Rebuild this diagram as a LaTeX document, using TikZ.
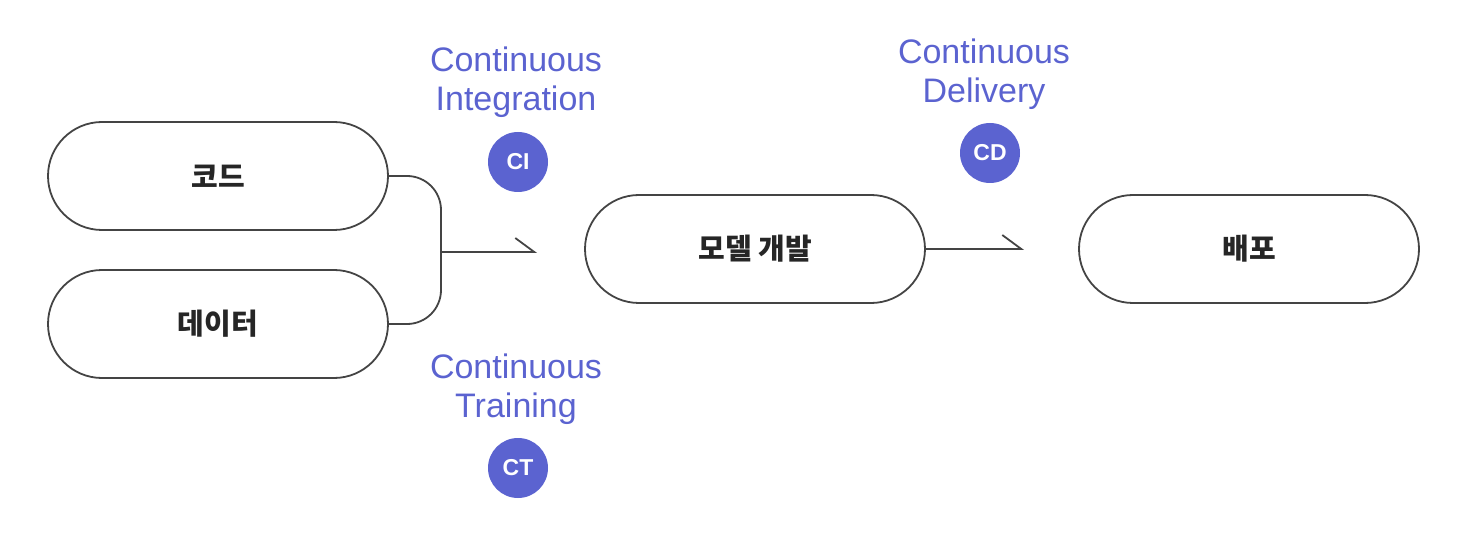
\documentclass[tikz,border=0pt]{standalone}
\usepackage{fontspec}
\setmainfont{Liberation Sans}
\newfontfamily\kr{Noto Sans CJK KR}
\usetikzlibrary{arrows.meta}
\definecolor{accent}{HTML}{5B63D0}
\definecolor{linec}{HTML}{444444}
\tikzset{
  pill/.style={draw=linec, line width=1.8pt, fill=white, rounded corners=54pt,
    minimum width=340pt, minimum height=108pt, inner sep=0pt,
    font=\kr\bfseries\fontsize{29}{32}\selectfont, text=black!85},
  badge/.style={circle, fill=accent, minimum size=60pt, inner sep=0pt, text=white,
    font=\bfseries\fontsize{23}{25}\selectfont},
  caption/.style={text=accent, align=center, font=\fontsize{34}{39}\selectfont},
  conn/.style={draw=linec, line width=1.8pt},
  harp/.style={conn, -{Straight Barb[harpoon, length=19pt, width=28pt, line width=1.8pt]}}
}
\begin{document}
\begin{tikzpicture}[x=1pt, y=-1pt]
\useasboundingbox (0,0) rectangle (1468,556);
\node[pill] (code) at (218,176) {코드};
\node[pill] (data) at (218,324) {데이터};
\node[pill] (model) at (755,249) {모델 개발};
\node[pill] (deploy) at (1249,249) {배포};

\node[caption] (ci_t) at (516,82) {Continuous\\Integration};
\node[badge] (ci) at (518,162) {CI};
\node[caption] (cd_t) at (984,74) {Continuous\\Delivery};
\node[badge] (cd) at (990,153) {CD};
\node[caption] (ct_t) at (516,389) {Continuous\\Training};
\node[badge] (ct) at (518,468) {CT};

\coordinate (j) at (441,252);
\coordinate (a1) at (537,252);
\coordinate (a2) at (1024,249);
\draw[conn, rounded corners=34pt] (code.east) -| (j) |- (data.east);
\draw[harp] (j) -- (a1);
\draw[harp] (model.east) -- (a2);
\end{tikzpicture}
\end{document}
